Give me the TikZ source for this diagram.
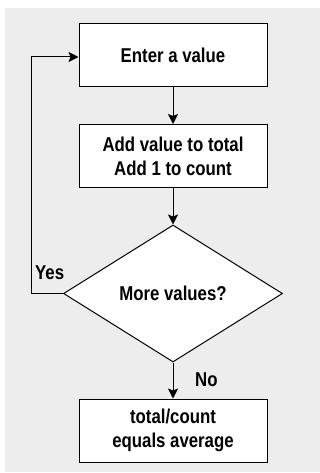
\documentclass[tikz,border=0pt]{standalone}
\usepackage{fontspec}
\setmainfont{Liberation Sans}[FakeStretch=0.84]
\usetikzlibrary{arrows.meta,shapes.geometric}
\definecolor{bggray}{HTML}{EDEDED}
\begin{document}
\begin{tikzpicture}[x=1pt,y=-1pt,
  every node/.style={font=\fontsize{20}{24}\selectfont\bfseries},
  procbox/.style={draw=black,fill=white,line width=1pt,minimum width=188pt,minimum height=63pt,align=center,inner sep=0pt},
  decision/.style={draw=black,fill=white,line width=1pt,diamond,minimum width=219pt,minimum height=137pt,inner sep=0pt,aspect=1.6},
  flow/.style={line width=1pt,-{Stealth[length=10pt,width=10pt,inset=2pt]}},
  lbl/.style={inner sep=0pt}]
\useasboundingbox (0,0) rectangle (320,473);
\fill[bggray] (5,8) rectangle (320,472);
\node[procbox] (enter) at (173,55.5) {Enter a value};
\node[procbox] (add) at (173,156) {Add value to total\\Add 1 to count};
\node[decision] (more) at (173,293.5) {More values?};
\node[procbox] (avg) at (173,430.5) {total/count\\equals average};
\coordinate (loopb) at (31,293.5);
\coordinate (loopt) at (31,57);
\draw[flow] (enter) -- (add);
\draw[flow] (add) -- (more);
\draw[flow] (more) -- (avg);
\draw[flow] (more.west) -- (loopb) -- (loopt) -- (loopt -| enter.west);
\node[lbl,anchor=west] (yes) at (35,273) {Yes};
\node[lbl,anchor=west] (no) at (195,380) {No};
\end{tikzpicture}
\end{document}
